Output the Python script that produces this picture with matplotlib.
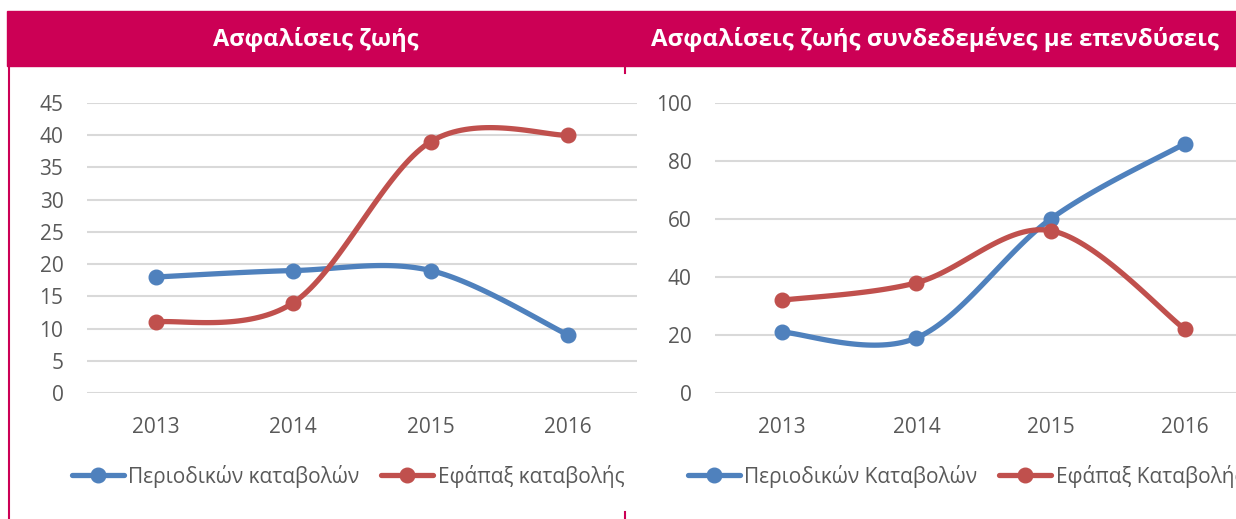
import numpy as np
import matplotlib
matplotlib.use("Agg")
import matplotlib.pyplot as plt
from matplotlib.patches import Rectangle
from matplotlib.lines import Line2D

plt.rcParams['font.family'] = ['Open Sans', 'DejaVu Sans']

years = ['2013', '2014', '2015', '2016']
life_periodic = [18, 19, 19, 9]
life_lump = [11, 14, 39, 40]
unit_periodic = [21, 19, 60, 86]
unit_lump = [32, 38, 56, 22]

titles = ['Ασφαλίσεις ζωής', 'Ασφαλίσεις ζωής συνδεδεμένες με επενδύσεις']
labels_left = ['Περιοδικών καταβολών', 'Εφάπαξ καταβολής']
labels_right = ['Περιοδικών Καταβολών', 'Εφάπαξ Καταβολής']

BLUE = '#4F81BD'
RED = '#C0504D'
PINK = '#CC0055'
GREY = '#595959'
W, H = 1236, 519


def smooth(vals, n=40):
    # excel-like smoothed line (catmull-rom bezier)
    pts = np.column_stack([np.arange(len(vals)), np.asarray(vals, float)])
    P = np.vstack([pts[0], pts, pts[-1]])
    out = []
    t = np.linspace(0, 1, n)[:, None]
    for i in range(len(pts) - 1):
        p0, p1, p2, p3 = P[i], P[i + 1], P[i + 2], P[i + 3]
        c1 = p1 + (p2 - p0) / 6
        c2 = p2 - (p3 - p1) / 6
        out.append((1 - t) ** 3 * p1 + 3 * (1 - t) ** 2 * t * c1
                   + 3 * (1 - t) * t ** 2 * c2 + t ** 3 * p2)
    return np.vstack(out)


def px(x0, y0, x1, y1):
    return [x0 / W, 1 - y1 / H, (x1 - x0) / W, (y1 - y0) / H]


fig = plt.figure(figsize=(W / 100, H / 100), dpi=100)

# header band and frame marks
fig.patches.append(Rectangle((7 / W, 1 - 66 / H), 1, 55 / H, transform=fig.transFigure,
                             color=PINK, zorder=0))
fig.add_artist(Line2D([8.5 / W, 8.5 / W], [0, 1 - 66 / H], color=PINK, lw=1.5))
fig.add_artist(Line2D([624.5 / W] * 2, [1 - 66 / H, 1 - 73 / H], color=PINK, lw=1.5))
fig.add_artist(Line2D([624.5 / W] * 2, [0, 1 - 512 / H], color=PINK, lw=1.5))
fig.text(316 / W, 1 - 39 / H, titles[0], color='white', fontsize=17, fontweight='bold',
         ha='center', va='center')
fig.text(935 / W, 1 - 39 / H, titles[1], color='white', fontsize=17.3, fontweight='bold',
         ha='center', va='center')

panels = [
    (px(87, 103, 637, 393), life_periodic, life_lump, 45, 5, labels_left, 72),
    (px(715, 103, 1252, 393), unit_periodic, unit_lump, 100, 20, labels_right, 688),
]

for rect, per, lump, ymax, step, labs, lx in panels:
    ax = fig.add_axes(rect)
    for vals, c, lab in [(per, BLUE, labs[0]), (lump, RED, labs[1])]:
        s = smooth(vals)
        ax.plot(s[:, 0], s[:, 1], color=c, lw=3.8, solid_capstyle='round', zorder=3)
        ax.plot(range(len(vals)), vals, 'o', color=c, ms=10.5, zorder=4)
    ax.set_xlim(-0.5, len(years) - 0.5)
    ax.set_ylim(0, ymax)
    ax.set_yticks(np.arange(0, ymax + 1, step))
    ax.set_xticks(range(len(years)))
    ax.set_xticklabels(years)
    ax.grid(axis='y', color='#D9D9D9', lw=1.5)
    ax.set_axisbelow(True)
    for sp in ax.spines.values():
        sp.set_visible(False)
    ax.tick_params(length=0, colors=GREY, labelsize=15)
    ax.tick_params(axis='y', pad=17)
    ax.tick_params(axis='x', pad=17)
    handles = [Line2D([], [], color=BLUE, lw=3.8, marker='o', ms=10.5, solid_capstyle='round'),
               Line2D([], [], color=RED, lw=3.8, marker='o', ms=10.5, solid_capstyle='round')]
    leg = fig.legend(handles, labs, loc='center left', bbox_to_anchor=(lx / W, 1 - 476 / H),
                     ncol=2, frameon=False, fontsize=15, handlelength=2.5,
                     handletextpad=0.2, columnspacing=1.05, borderpad=0, borderaxespad=0)
    for t in leg.get_texts():
        t.set_color(GREY)

fig.savefig('out.png', dpi=100)
